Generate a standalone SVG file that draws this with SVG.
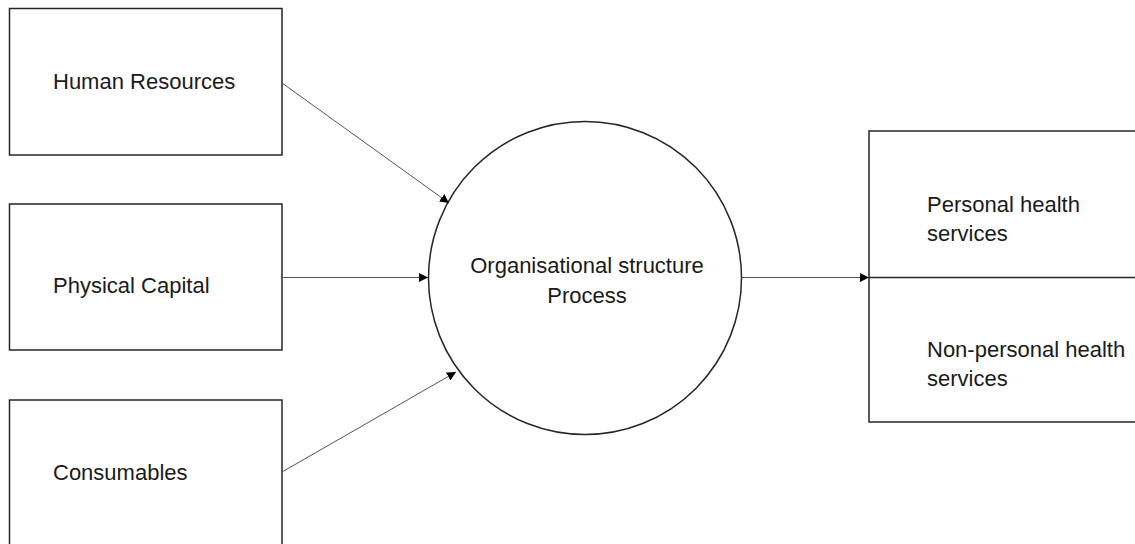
<svg xmlns="http://www.w3.org/2000/svg" width="1135" height="544" viewBox="0 0 1135 544">
  <style>
    .box { fill: #ffffff; stroke: #262626; stroke-width: 1.5; }
    .label { font-family: "Liberation Sans", Arial, sans-serif; font-size: 22px; fill: #1a1a1a; }
    .edge { fill: none; stroke: #555555; stroke-width: 1; }
  </style>
  <defs>
    <marker id="arrow" viewBox="0 0 10 10" refX="10" refY="5" markerWidth="9" markerHeight="9" markerUnits="userSpaceOnUse" orient="auto">
      <path d="M0,0 L10,5 L0,10 Z" fill="#000000"/>
    </marker>
  </defs>

  <rect width="1135" height="544" fill="#ffffff"/>

  <!-- input boxes -->
  <g id="human-resources">
    <rect class="box" x="9.5" y="8.5" width="272.5" height="146.5"/>
    <text class="label" x="53" y="89">Human Resources</text>
  </g>
  <g id="physical-capital">
    <rect class="box" x="9.5" y="204" width="272.5" height="146"/>
    <text class="label" x="53" y="293">Physical Capital</text>
  </g>
  <g id="consumables">
    <rect class="box" x="9.5" y="400" width="272.5" height="150"/>
    <text class="label" x="53" y="480">Consumables</text>
  </g>

  <!-- process circle -->
  <g id="process">
    <circle class="box" cx="585" cy="278" r="156.5"/>
    <text class="label" x="587" y="273" text-anchor="middle">Organisational structure</text>
    <text class="label" x="587" y="303" text-anchor="middle">Process</text>
  </g>

  <!-- outputs: split box -->
  <g id="health-services">
    <rect class="box" x="869" y="131" width="280" height="291"/>
    <line x1="869" y1="277.5" x2="1140" y2="277.5" stroke="#262626" stroke-width="1.5"/>
    <text class="label" x="927" y="212">Personal health</text>
    <text class="label" x="927" y="241">services</text>
    <text class="label" x="927" y="357">Non-personal health</text>
    <text class="label" x="927" y="386">services</text>
  </g>

  <!-- connectors -->
  <g id="connectors">
    <line class="edge" x1="282" y1="83" x2="449" y2="203" marker-end="url(#arrow)"/>
    <line class="edge" x1="282" y1="277.5" x2="428" y2="277.5" marker-end="url(#arrow)"/>
    <line class="edge" x1="282" y1="472" x2="456" y2="372" marker-end="url(#arrow)"/>
    <line class="edge" x1="741.5" y1="277.5" x2="869" y2="277.5" marker-end="url(#arrow)"/>
  </g>
</svg>
